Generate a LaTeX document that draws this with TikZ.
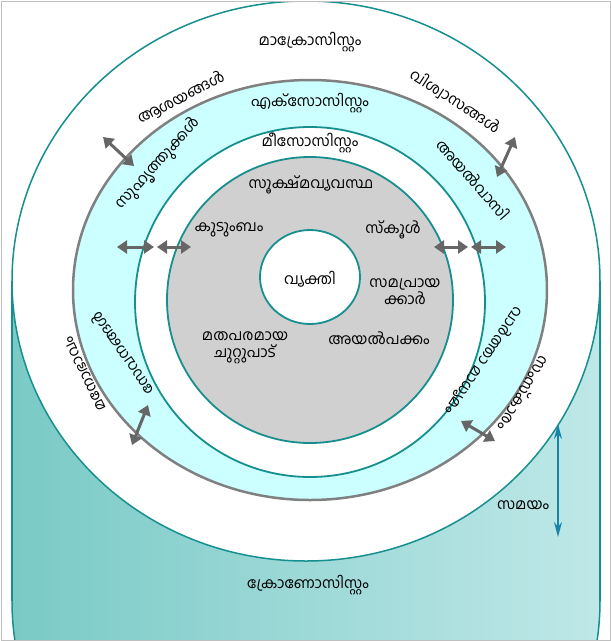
\documentclass[tikz,border=0pt]{standalone}
\usepackage{fontspec}
\newfontfamily\mlfont[Script=Malayalam]{Hind Kochi}
\usetikzlibrary{arrows.meta}
\definecolor{tealline}{HTML}{178F8F}
\definecolor{cyanband}{HTML}{CCFFFF}
\definecolor{microgray}{HTML}{D0D0D0}
\definecolor{ringgray}{HTML}{808080}
\definecolor{arrgray}{HTML}{666666}
\definecolor{timeblue}{HTML}{1784A8}
\definecolor{cylL}{HTML}{7ACAC6}
\definecolor{cylM}{HTML}{A6DDDC}
\definecolor{cylR}{HTML}{BFE8E8}
\begin{document}
\begin{tikzpicture}[x=1pt,y=-1pt,
  lbl/.style={font=\mlfont\fontsize{15}{17}\selectfont, inner sep=0pt, align=center},
  dbl/.style={arrgray, line width=3pt, {Triangle[length=10pt,width=13pt]}-{Triangle[length=10pt,width=13pt]}},
  ring/.style={tealline, line width=1.8pt}]
\useasboundingbox (0,0) rectangle (611,641);
\begin{scope}
\clip (1,1) rectangle (610,640);
% cylinder body (chronosystem)
\shade[left color=cylL, middle color=cylM, right color=cylR] (12,281) rectangle (600,601);
\shade[left color=cylL, middle color=cylM, right color=cylR] (306,601) ellipse [x radius=294, y radius=280];
\begin{scope}
\clip (0,601) rectangle (611,641);
\draw[ring, line width=1.5pt] (306,601) ellipse [x radius=294, y radius=280];
\end{scope}
\draw[ring, line width=1.5pt] (12,281) -- (12,601) (600,281) -- (600,601);
% macrosystem top face
\draw[ring, line width=1.5pt, fill=white] (306,281) ellipse [x radius=294, y radius=280];
% exosystem band
\draw[ringgray, line width=2.5pt, fill=cyanband] (310,290) ellipse [x radius=237, y radius=210];
% mesosystem band
\draw[ring, fill=white] (310,302) circle [radius=175];
% microsystem
\draw[ring, fill=microgray] (310,300) circle [radius=143];
% individual
\draw[ring, fill=white] (310,277) ellipse [x radius=50, y radius=47];
\end{scope}
\draw[gray!50, line width=0.8pt] (1,1) rectangle (610,640);

% labels
\node[lbl] (macro) at (310,42) {മാക്രോസിസ്റ്റം};
\node[lbl, rotate=27] (ideas) at (181,98) {ആശയങ്ങൾ};
\node[lbl, rotate=-33] (beliefs) at (455,101) {വിശ്വാസങ്ങൾ};
\node[lbl] (exo) at (310,103) {എക്സോസിസ്റ്റം};
\node[lbl] (meso) at (310,143) {മീസോസിസ്റ്റം};
\node[lbl, rotate=48] (friends) at (158,164) {സുഹൃത്തുക്കൾ};
\node[lbl, rotate=-49] (neigh) at (474,179) {അയൽവാസി};
\node[lbl] (micro) at (311,185) {സൂക്ഷ്മവ്യവസ്ഥ};
\node[lbl] (family) at (229,230) {കുടുംബം};
\node[lbl] (school) at (393,230) {സ്കൂൾ};
\node[lbl] (indiv) at (310,279) {വ്യക്തി};
\node[lbl] (peers) at (405,292) {സമപ്രായ\\ക്കാർ};
\node[lbl] (hood) at (379,338) {അയൽപക്കം};
\node[lbl] (relig) at (245,348) {മതപരമായ\\ചുറ്റുപാട്};
\node[lbl, rotate=116] (attit) at (85,374) {മനോഭാവം};
\node[lbl, rotate=125] (serv) at (122,354) {സേവനങ്ങൾ};
\node[lbl, rotate=-124] (media) at (484,361) {വാർത്താ മാധ്യമം};
\node[lbl, rotate=-121] (cult) at (524,394) {സംസ്കാരം};
\node[lbl] (timel) at (523,505) {സമയം};
\node[lbl] (chrono) at (308,585) {ക്രോണോസിസ്റ്റം};

% interaction arrows
\coordinate (a1s) at (103,137); \coordinate (a1e) at (134,166);
\coordinate (a2s) at (515,137); \coordinate (a2e) at (497,177);
\coordinate (a3s) at (117,247); \coordinate (a3e) at (154,247);
\coordinate (a4s) at (157,247); \coordinate (a4e) at (191,247);
\coordinate (a5s) at (434,247); \coordinate (a5e) at (468,247);
\coordinate (a6s) at (471,247); \coordinate (a6e) at (506,247);
\coordinate (a7s) at (148,405); \coordinate (a7e) at (132,445);
\coordinate (a8s) at (461,421); \coordinate (a8e) at (495,441);
\foreach \i in {1,...,8} \draw[dbl] (a\i s) -- (a\i e);
% time arrow
\coordinate (t1) at (558,424); \coordinate (t2) at (558,537);
\draw[timeblue, line width=1.6pt, {Stealth[length=15pt,width=8pt]}-{Stealth[length=15pt,width=8pt]}] (t1) -- (t2);
\end{tikzpicture}
\end{document}
